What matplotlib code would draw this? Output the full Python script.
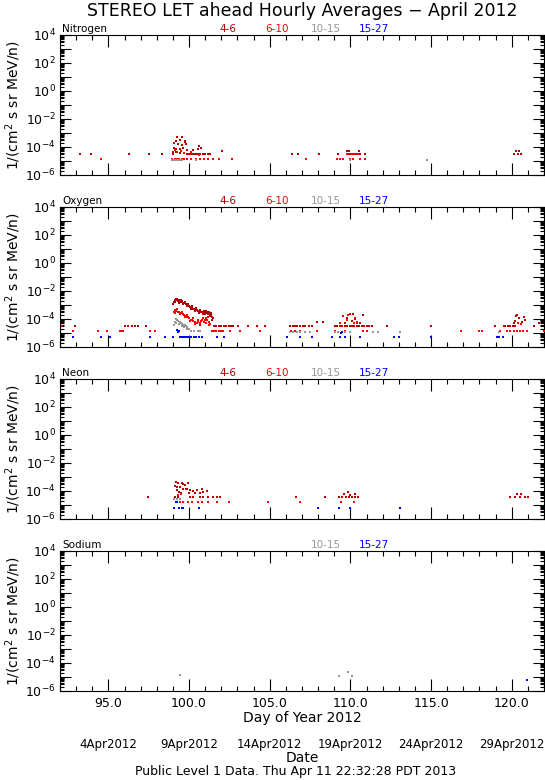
import numpy as np
import matplotlib
matplotlib.use('Agg')
import matplotlib.pyplot as plt
from matplotlib.ticker import MultipleLocator, LogLocator, NullFormatter, FuncFormatter
import matplotlib.transforms as mtransforms

plt.rcParams['font.family'] = ['DejaVu Sans']

# channel labels (MeV/n) and colours
channels = ['4-6', '6-10', '10-15', '15-27']
colors = ['#b40000', '#ff0000', '#969696', '#0000ff']

# ---- Nitrogen (day of year, flux) ----
n_46 = [(93.23, 3.2e-5), (93.92, 3.2e-5), (96.25, 3.2e-5), (97.54, 3.2e-5), (98.34, 3.2e-5), (99.00, 3.2e-5),
        (99.23, 4.9e-4), (99.57, 4.9e-4), (99.19, 2.7e-4), (99.44, 3.2e-4), (99.73, 2.7e-4), (99.77, 2.2e-4),
        (99.07, 1.8e-4), (99.32, 1.6e-4), (99.57, 1.4e-4), (99.81, 1.6e-4), (100.64, 1.25e-4), (100.73, 9e-5),
        (100.56, 7.2e-5), (99.07, 9e-5), (99.19, 7.2e-5), (99.44, 6.8e-5), (99.65, 8e-5), (99.90, 6.1e-5),
        (100.23, 6.1e-5), (102.05, 5.5e-5), (98.99, 4.7e-5), (99.19, 4.2e-5), (99.44, 3.7e-5),
        (99.86, 3.2e-5), (99.94, 3.2e-5), (100.02, 3.2e-5), (100.10, 3.2e-5), (100.19, 3.2e-5), (100.27, 3.2e-5),
        (100.35, 3.2e-5), (100.48, 3.2e-5), (100.60, 3.2e-5), (100.70, 3.2e-5), (100.85, 3.2e-5), (101.00, 3.2e-5),
        (101.15, 3.2e-5), (101.31, 3.2e-5),
        (106.38, 3.2e-5), (106.75, 3.2e-5), (108.06, 3.2e-5), (109.22, 3.2e-5),
        (109.77, 5.5e-5), (109.94, 5.5e-5), (110.56, 5.5e-5),
        (109.87, 3.2e-5), (109.98, 3.2e-5), (110.19, 3.2e-5), (110.39, 3.2e-5), (110.60, 3.2e-5), (110.91, 3.2e-5),
        (120.17, 3.2e-5), (120.39, 3.2e-5), (120.60, 3.2e-5), (120.27, 5.5e-5), (120.48, 5.5e-5)]
n_610 = [(94.53, 1.5e-5), (98.94, 1.5e-5), (99.10, 1.5e-5), (99.25, 1.5e-5), (99.40, 1.5e-5), (99.55, 1.5e-5),
         (99.70, 1.5e-5), (99.85, 1.5e-5), (100.15, 1.5e-5), (100.40, 1.5e-5), (100.65, 1.5e-5), (100.90, 1.5e-5),
         (101.20, 1.5e-5), (101.47, 1.5e-5), (101.88, 1.5e-5), (102.67, 1.5e-5),
         (99.10, 6.1e-5), (99.28, 4.7e-5), (99.52, 5.5e-5), (99.70, 3.7e-5), (100.10, 4.2e-5), (100.60, 2.6e-5),
         (107.23, 1.5e-5), (109.15, 1.5e-5), (109.36, 1.5e-5), (109.52, 1.5e-5), (109.98, 1.5e-5),
         (110.19, 1.5e-5), (110.60, 1.5e-5), (110.91, 1.5e-5),
         (109.80, 3.2e-5), (110.10, 3.2e-5), (110.30, 3.2e-5), (110.50, 3.2e-5)]
n_1015 = [(98.94, 1.25e-5), (99.02, 1.25e-5), (99.10, 1.25e-5), (99.19, 1.25e-5), (99.27, 1.25e-5),
          (99.36, 1.25e-5), (99.44, 1.25e-5), (99.57, 1.25e-5), (100.45, 1.25e-5), (109.95, 1.1e-5),
          (114.73, 1.1e-5)]
n_1527 = []

# ---- Oxygen ----
o_46 = [(92.10, 3.2e-5), (92.93, 3.2e-5), (96.03, 3.2e-5), (96.24, 3.2e-5), (96.45, 3.2e-5), (96.65, 3.2e-5),
        (96.86, 3.2e-5), (97.33, 3.2e-5),
        (99.03, 1.2e-3), (99.07, 1.7e-3), (99.12, 2.2e-3), (99.17, 2.5e-3), (99.22, 2.4e-3), (99.28, 2.2e-3),
        (99.34, 1.9e-3), (99.40, 2.1e-3), (99.46, 1.8e-3), (99.52, 1.7e-3), (99.58, 1.8e-3), (99.65, 1.5e-3),
        (99.72, 1.4e-3), (99.78, 1.2e-3), (99.85, 1.1e-3), (99.92, 9e-4), (100.00, 8e-4), (100.08, 7e-4),
        (100.16, 6e-4), (100.24, 5.5e-4), (100.32, 5e-4), (100.40, 4.6e-4), (100.48, 4.2e-4), (100.56, 3.8e-4),
        (100.64, 3.6e-4), (100.72, 3.3e-4), (100.80, 3.4e-4), (100.88, 3.1e-4), (100.96, 3.0e-4), (101.04, 2.8e-4),
        (101.12, 3.0e-4), (101.20, 2.6e-4), (101.28, 2.3e-4), (101.36, 1.9e-4), (101.42, 1.5e-4), (101.48, 1.1e-4),
        # scatter around the decay
        (99.15, 1.6e-3), (99.25, 2.9e-3), (99.37, 1.5e-3), (99.49, 2.2e-3), (99.62, 1.2e-3), (99.75, 1.7e-3),
        (99.88, 8e-4), (99.96, 1.2e-3), (100.12, 5.5e-4), (100.20, 8.5e-4), (100.36, 3.8e-4), (100.44, 6e-4),
        (100.60, 2.8e-4), (100.68, 4.5e-4), (100.84, 2.4e-4), (100.92, 4e-4), (101.00, 2.2e-4), (101.08, 3.8e-4),
        (101.16, 2.1e-4), (101.24, 3.4e-4), (101.32, 1.6e-4), (101.39, 2.6e-4), (101.45, 8e-5),
        (101.55, 3.2e-5), (101.70, 3.2e-5), (101.85, 3.2e-5), (102.00, 3.2e-5), (102.15, 3.2e-5), (102.30, 3.2e-5),
        (102.45, 3.2e-5), (102.60, 3.2e-5), (102.75, 3.2e-5), (103.06, 3.2e-5), (103.68, 3.2e-5), (104.20, 3.2e-5),
        (104.72, 3.2e-5),
        (106.26, 3.2e-5), (106.43, 3.2e-5), (106.57, 3.2e-5), (106.71, 3.2e-5), (106.88, 3.2e-5), (107.05, 3.2e-5),
        (107.19, 3.2e-5), (107.46, 3.2e-5), (107.60, 3.2e-5), (107.91, 6e-5), (108.29, 6e-5),
        (109.05, 3.2e-5), (109.20, 3.2e-5), (109.36, 3.2e-5), (109.50, 3.2e-5), (109.65, 3.2e-5), (109.80, 3.2e-5),
        (109.95, 3.2e-5), (110.10, 3.2e-5), (110.25, 3.2e-5), (110.40, 3.2e-5), (110.55, 3.2e-5), (110.70, 3.2e-5),
        (110.85, 3.2e-5), (111.00, 3.2e-5), (111.15, 3.2e-5), (111.32, 3.2e-5),
        (109.77, 1.1e-4), (109.98, 2.3e-4), (110.15, 2.3e-4), (110.77, 1.9e-4), (110.29, 9.5e-5), (110.43, 5.5e-5),
        (109.67, 5.5e-5), (110.60, 4.9e-5), (110.08, 7.6e-5),
        (112.29, 3.2e-5), (114.98, 3.2e-5),
        (118.97, 3.2e-5), (119.49, 3.2e-5), (119.60, 3.2e-5), (119.75, 3.2e-5), (119.90, 3.2e-5), (120.05, 3.2e-5),
        (120.20, 3.2e-5), (120.27, 1.6e-4), (120.35, 1.9e-4), (120.48, 1.1e-4), (120.21, 7.6e-5), (120.73, 1.4e-4),
        (120.11, 5.5e-5), (120.62, 6.5e-5), (120.83, 8.5e-5), (121.35, 3.2e-5), (121.72, 5.5e-5)]
o_610 = [(92.83, 1.5e-5), (94.38, 1.5e-5), (94.89, 1.5e-5), (95.72, 1.5e-5), (95.82, 1.5e-5), (95.93, 1.5e-5),
         (97.58, 1.5e-5), (97.89, 1.5e-5),
         (99.05, 3.0e-4), (99.10, 4.4e-4), (99.16, 4.0e-4), (99.22, 3.6e-4), (99.30, 3.3e-4), (99.38, 3.0e-4),
         (99.46, 2.6e-4), (99.54, 2.5e-4), (99.62, 2.2e-4), (99.70, 1.9e-4), (99.78, 1.6e-4), (99.86, 1.5e-4),
         (99.94, 1.3e-4), (100.02, 1.1e-4), (100.10, 9e-5), (100.18, 8e-5), (100.26, 7e-5), (100.34, 6e-5),
         (100.42, 5.5e-5), (100.50, 5e-5), (100.58, 6e-5), (100.66, 5.5e-5), (100.74, 7e-5), (100.82, 8e-5),
         (100.90, 6.5e-5), (100.98, 9e-5), (101.06, 1.1e-4), (101.14, 8e-5), (101.22, 6e-5), (101.30, 4.5e-5),
         # scatter around the decay
         (99.13, 2.6e-4), (99.26, 4.8e-4), (99.42, 2.2e-4), (99.58, 3.4e-4), (99.74, 1.4e-4), (99.90, 2e-4),
         (100.06, 7e-5), (100.22, 1.2e-4), (100.38, 4.2e-5), (100.54, 8e-5), (100.70, 4e-5), (100.86, 1.2e-4),
         (101.02, 5.5e-5), (101.18, 1.3e-4), (101.26, 3.5e-5),
         (101.40, 1.5e-5), (101.55, 1.5e-5), (101.70, 1.5e-5), (101.85, 1.5e-5), (102.00, 1.5e-5), (102.10, 1.5e-5),
         (102.54, 1.5e-5), (103.16, 1.5e-5), (104.40, 1.5e-5),
         (106.30, 1.5e-5), (106.57, 1.5e-5), (106.88, 1.5e-5), (107.91, 1.5e-5),
         (109.05, 1.5e-5), (109.67, 1.5e-5), (110.81, 1.5e-5), (111.01, 1.5e-5),
         (109.53, 1.6e-4), (109.88, 1.9e-4), (110.29, 1.1e-4), (109.77, 8.5e-5), (110.43, 6.5e-5), (110.20, 4.9e-5),
         (109.36, 4.9e-5),
         (116.84, 1.5e-5), (118.00, 1.5e-5), (118.14, 1.5e-5), (119.28, 1.5e-5), (119.69, 1.5e-5), (119.90, 1.5e-5),
         (120.11, 1.5e-5), (120.30, 1.5e-5), (120.50, 1.5e-5), (120.70, 1.5e-5), (120.93, 1.5e-5),
         (120.40, 5.5e-5), (120.55, 4.5e-5), (121.97, 1.5e-5)]
o_1015 = [(99.05, 4e-5), (99.12, 6.5e-5), (99.19, 9.5e-5), (99.26, 8e-5), (99.34, 7e-5), (99.42, 6e-5),
          (99.50, 5e-5), (99.58, 4.5e-5), (99.66, 4e-5), (99.74, 3.7e-5), (99.82, 3e-5), (99.90, 2.5e-5),
          (100.00, 2e-5), (100.12, 1.3e-5), (100.30, 1.3e-5), (100.55, 1.3e-5), (100.70, 1.3e-5),
          (99.22, 5.5e-5), (99.38, 4.5e-5), (99.54, 3e-5), (99.70, 2.5e-5), (99.86, 1.8e-5),
          (106.26, 1.2e-5), (106.47, 1.2e-5), (106.67, 1.2e-5), (106.88, 1.2e-5), (107.19, 1.2e-5), (107.50, 1.2e-5),
          (109.05, 1.2e-5), (109.25, 1.2e-5), (109.45, 1.2e-5), (109.67, 1.2e-5), (109.98, 1.2e-5),
          (111.43, 1.2e-5), (111.74, 1.2e-5), (113.08, 1.2e-5), (119.20, 1.2e-5)]
o_1527 = [(92.83, 5e-6), (94.52, 5e-6), (95.10, 5e-6), (97.58, 5e-6), (98.51, 5e-6), (99.03, 5e-6),
          (99.44, 5e-6), (99.55, 5e-6), (99.65, 5e-6), (99.75, 5e-6), (99.85, 5e-6), (99.95, 5e-6),
          (100.05, 5e-6), (100.15, 5e-6), (100.30, 5e-6), (100.45, 5e-6), (100.60, 5e-6), (100.78, 5e-6),
          (101.71, 5e-6), (102.17, 5e-6), (106.05, 5e-6), (106.88, 5e-6), (107.60, 5e-6), (108.84, 5e-6),
          (109.36, 5e-6), (109.67, 5e-6), (110.60, 5e-6), (112.71, 5e-6), (113.02, 5e-6), (115.00, 5e-6),
          (119.07, 5e-6), (119.24, 5e-6), (119.44, 5e-6),
          (99.27, 1.6e-5), (99.34, 1.1e-5), (99.40, 1.3e-5), (109.40, 1e-5), (109.50, 1.2e-5)]

# ---- Neon ----
ne_46 = [(99.19, 4.7e-4), (99.34, 3.5e-4), (99.54, 4e-4), (99.65, 3.2e-4), (99.75, 2.7e-4), (99.96, 3.5e-4),
         (99.13, 2.3e-4), (99.27, 2e-4), (99.44, 1.8e-4), (99.61, 1.5e-4), (99.81, 1.5e-4), (99.89, 1.3e-4),
         (100.06, 1.2e-4), (100.27, 1.05e-4), (100.47, 1.2e-4), (100.78, 1.3e-4), (100.89, 9e-5), (101.13, 1e-4),
         (99.23, 1.2e-4), (99.40, 9e-5), (99.48, 6.8e-5), (100.02, 6.8e-5), (100.37, 7.6e-5), (100.68, 6.8e-5),
         (97.46, 3.5e-5), (99.13, 3.5e-5), (99.34, 3.5e-5), (100.06, 3.5e-5), (100.27, 3.5e-5), (100.68, 3.5e-5),
         (100.89, 3.5e-5), (101.20, 3.5e-5), (101.51, 3.5e-5), (101.71, 3.5e-5), (101.92, 3.5e-5),
         (106.60, 3.5e-5), (108.40, 3.5e-5), (109.30, 3.5e-5), (109.50, 3.5e-5), (109.70, 3.5e-5), (109.90, 3.5e-5),
         (110.10, 3.5e-5), (110.30, 3.5e-5), (110.50, 3.5e-5), (109.60, 6e-5), (109.85, 8e-5), (110.00, 5e-5),
         (110.30, 6.5e-5),
         (119.90, 3.5e-5), (120.20, 3.5e-5), (120.50, 3.5e-5), (120.80, 3.5e-5), (121.00, 3.5e-5),
         (120.30, 6e-5), (120.60, 6e-5)]
ne_610 = [(99.23, 1.7e-5), (99.44, 1.7e-5), (99.65, 1.7e-5), (99.96, 1.7e-5), (100.16, 1.7e-5), (100.58, 1.7e-5),
          (100.78, 1.7e-5), (101.20, 1.7e-5), (101.71, 1.7e-5), (102.50, 1.7e-5), (104.92, 1.7e-5),
          (106.90, 1.7e-5), (109.40, 1.7e-5), (110.20, 1.7e-5), (99.30, 5e-5), (99.50, 6e-5)]
ne_1015 = [(99.07, 2.6e-5), (99.23, 2.6e-5), (99.44, 2.6e-5)]
ne_1527 = [(99.19, 1.7e-5), (99.27, 1.7e-5), (99.07, 5.8e-6), (99.40, 5.8e-6), (99.54, 5.8e-6), (99.65, 5.8e-6),
           (100.64, 5.8e-6), (108.00, 5.8e-6), (109.30, 5.8e-6), (110.00, 5.8e-6), (113.10, 5.8e-6)]

# ---- Sodium ----
na_1015 = [(99.44, 1.3e-5), (109.28, 1.2e-5), (109.84, 2.3e-5), (110.10, 1.1e-5)]
na_1527 = [(120.97, 6.3e-6)]

panels = [
    ('Nitrogen', [n_46, n_610, n_1015, n_1527], [0, 1, 2, 3]),
    ('Oxygen', [o_46, o_610, o_1015, o_1527], [0, 1, 2, 3]),
    ('Neon', [ne_46, ne_610, ne_1015, ne_1527], [0, 1, 2, 3]),
    ('Sodium', [[], [], na_1015, na_1527], [2, 3]),
]

date_days = [95, 100, 105, 110, 115, 120]
date_labels = ['4Apr2012', '9Apr2012', '14Apr2012', '19Apr2012', '24Apr2012', '29Apr2012']

W, H = 545, 780
fig = plt.figure(figsize=(W / 100, H / 100), dpi=100)

tops = [35, 207, 379, 551]
ph = 140
left, width = 60, 484
label_x = [0.347, 0.448, 0.550, 0.649]


def yfmt(v, pos):
    e = int(round(np.log10(v)))
    return r'$10^{%d}$' % e if e % 2 == 0 else ''


for i, (name, series, shown) in enumerate(panels):
    ax = fig.add_axes([left / W, 1 - (tops[i] + ph) / H, width / W, ph / H])
    for k, s in enumerate(series):
        if not s:
            continue
        d = [p[0] for p in s]
        v = [p[1] for p in s]
        ax.plot(d, v, 's', color=colors[k], ms=2.0, mew=0, zorder=3)
    ax.set_yscale('log')
    ax.set_ylim(1e-6, 1e4)
    ax.set_xlim(92, 122)
    ax.xaxis.set_major_locator(MultipleLocator(5))
    ax.xaxis.set_minor_locator(MultipleLocator(1))
    ax.yaxis.set_major_locator(LogLocator(base=10, numticks=20))
    ax.yaxis.set_minor_locator(LogLocator(base=10, subs=np.arange(2, 10), numticks=20))
    ax.yaxis.set_minor_formatter(NullFormatter())
    ax.yaxis.set_major_formatter(FuncFormatter(yfmt))
    ax.tick_params(which='both', direction='in', top=True, right=True, width=0.8)
    ax.tick_params(axis='x', which='major', length=8.5)
    ax.tick_params(axis='x', which='minor', length=3.6)
    ax.tick_params(axis='y', which='major', length=8)
    ax.tick_params(axis='y', which='minor', length=3)
    ax.tick_params(axis='y', labelsize=9, pad=3)
    for sp in ax.spines.values():
        sp.set_linewidth(0.8)
    ax.set_ylabel('1/(cm$^2$ s sr MeV/n)', fontsize=10, labelpad=2)
    ax.text(0.005, 1.01, name, transform=ax.transAxes, fontsize=7.5, ha='left', va='bottom')
    for k in shown:
        ax.text(label_x[k], 1.01, channels[k], transform=ax.transAxes, fontsize=7.5,
                color=colors[k], ha='center', va='bottom')
    if i < 3:
        ax.tick_params(axis='x', labelbottom=False)
    else:
        ax.xaxis.set_major_formatter(FuncFormatter(lambda v, p: '%.1f' % v))
        ax.tick_params(axis='x', labelsize=9, pad=4)
        ax.set_xlabel('Day of Year 2012', fontsize=10, labelpad=1)
        tr = mtransforms.blended_transform_factory(ax.transData, ax.transAxes)
        for d, lab in zip(date_days, date_labels):
            ax.text(d, -0.385, lab, transform=tr, fontsize=8.5, ha='center', va='center')
        ax.text(0.5, -0.48, 'Date', transform=ax.transAxes, fontsize=10, ha='center', va='center')

fig.text(302 / W, 1 - 11 / H, 'STEREO LET ahead Hourly Averages \u2212 April 2012', fontsize=12.5,
         ha='center', va='center')
fig.text(296 / W, 1 - 772 / H, 'Public Level 1 Data. Thu Apr 11 22:32:28 PDT 2013', fontsize=9,
         ha='center', va='center')

fig.savefig('out.png', dpi=100)
